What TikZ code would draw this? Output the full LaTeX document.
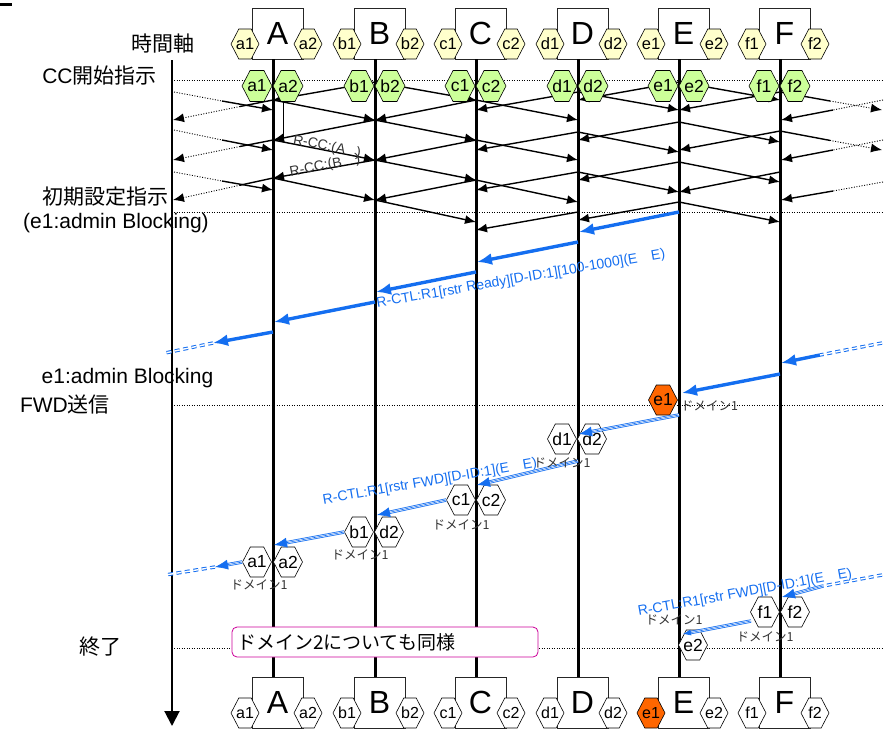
\documentclass[tikz,border=0pt]{standalone}
\usepackage{fontspec}
\setmainfont{Liberation Sans}
\newfontfamily\jp{Noto Sans CJK JP}
\usetikzlibrary{shapes.symbols,arrows.meta}
\definecolor{hexyellow}{RGB}{255,255,204}
\definecolor{hexgreen}{RGB}{204,255,153}
\definecolor{hexorange}{RGB}{255,102,0}
\definecolor{cblue}{RGB}{20,110,240}
\definecolor{boxmag}{RGB}{204,0,153}
\definecolor{txtgray}{RGB}{51,51,51}
\newcommand\hx[1]{\makebox[0pt]{#1}}
\newcommand\fs[1]{\fontsize{#1}{#1}\selectfont}
\begin{document}
\begin{tikzpicture}[x=1pt,y=-1pt,
  hexshape/.style={signal, signal to=east and west, signal pointer angle=125, draw=black, line width=0.6pt, inner sep=0pt, minimum width=29pt, minimum height=30pt},
  yhex/.style={hexshape, fill=hexyellow, minimum width=28pt, font=\fs{16.5}},
  ghex/.style={hexshape, fill=hexgreen, minimum width=30pt, minimum height=31pt, font=\fs{17.5}},
  whex/.style={hexshape, fill=white, font=\fs{17.5}},
  ohex/.style={hexshape, fill=hexorange, font=\fs{17.5}},
  bhex/.style={hexshape, fill=white, minimum width=28pt, font=\fs{16}},
  bohex/.style={bhex, fill=hexorange},
  entity/.style={draw=black!85, line width=0.6pt, fill=white, minimum width=51pt, minimum height=51pt, inner sep=0pt, font=\fs{32}},
  lifeline/.style={line width=3pt},
  msg/.style={line width=1.4pt, -{Latex[length=11pt,width=9pt]}},
  plainmsg/.style={line width=1.4pt},
  dotmsg/.style={line width=0.9pt, dash pattern=on 1pt off 1.6pt},
  dottip/.style={dotmsg, -{Latex[length=11pt,width=9pt]}},
  hline/.style={line width=0.5pt, dash pattern=on 1pt off 1.5pt},
  bluethick/.style={cblue, line width=3.4pt, -{Latex[length=15pt,width=12pt]}},
  dashdouble/.style={draw=cblue, double=white, line width=1pt, double distance=1.4pt, dash pattern=on 5pt off 3.5pt},
  fwouter/.style={draw=cblue, double=white, line width=0.8pt, double distance=1.8pt, shorten >=8pt},
  fwinner/.style={draw=cblue, line width=0.6pt, -{Latex[length=13pt,width=10pt]}},
  lbl/.style={font=\fs{21}, inner sep=0pt},
  dom/.style={font=\jp\fs{12.5}, text=txtgray, inner sep=0pt},
  bluelbl/.style={font=\fs{14}, text=cblue, inner sep=0pt},
  rcc/.style={font=\fs{14}, text=txtgray, inner sep=0pt},
  endbox/.style={draw=boxmag, line width=0.8pt, fill=white, rounded corners=5pt, minimum width=306pt, minimum height=30pt, inner sep=0pt, font=\jp\fs{19}}
]
\useasboundingbox (0,0) rectangle (895,729);
\fill (0,3) rectangle (12,6);

% horizontal dotted phase lines
\foreach \yy in {80,212,405,648}
  \draw[hline] (174,\yy) -- (882,\yy);

% time axis
\coordinate (axtop) at (172,60);
\coordinate (axbot) at (172,726);
\draw[line width=2pt, -{Triangle[length=15pt,width=15pt]}] (axtop) -- (axbot);

% entity boxes and lifelines
\foreach \L/\x in {A/273, B/375, C/476, D/578, E/679, F/780}{
  \node[entity] (top\L) at (\x+4.5,33.5) {\L};
  \node[entity] (bot\L) at (\x+4.5,702.5) {\L};
  \draw[lifeline] ([xshift=-4.5pt]top\L.south) -- ([xshift=-4.5pt]bot\L.north);
}

% black CC messages
\foreach \xa/\ya/\xb/\yb in {375/82/273/100, 375/82/476/100, 679/82/578/100, 679/82/780/100,
  578/92/476/110, 578/92/679/110, 780/92/679/110,
  273/100/375/120, 476/100/375/120, 476/100/578/120,
  375/120/273/140, 375/120/476/140, 679/122/578/140, 679/122/780/142,
  578/132/476/150, 578/132/679/152, 780/131/679/150,
  273/140/375/160, 476/140/375/160, 476/140/578/160,
  375/160/273/178, 375/160/476/180, 679/162/578/180, 679/162/780/182,
  578/172/476/190, 578/172/679/192, 780/172/679/192,
  273/178/375/200, 476/180/375/200, 476/180/578/202,
  375/200/476/222, 679/202/578/220, 679/202/780/222, 578/212/476/230}
  \draw[msg] (\xa,\ya) -- (\xb,\yb);

% messages to / from the left outside
\foreach \ya/\ym/\yb in {92/101/110, 130/140/150, 172/181/190}{
  \draw[dotmsg] (174,\ya) -- (222,\ym);
  \draw[msg] (222,\ym) -- (273,\yb);
}
\foreach \ya/\ym/\yb in {100/106.5/120, 140/146.5/160, 178/185.2/200}{
  \draw[plainmsg] (273,\ya) -- (240,\ym);
  \draw[dottip] (240,\ym) -- (173,\yb);
}
% messages to / from the right outside
\foreach \ya/\ym/\yb in {92/101/110, 131/140.4/150}{
  \draw[plainmsg] (780,\ya) -- (830,\ym);
  \draw[dottip] (830,\ym) -- (882,\yb);
}
\foreach \ya/\ym/\yb in {100/110/120, 140/150/160, 182/191/200}{
  \draw[dotmsg] (883,\ya) -- (833,\ym);
  \draw[msg] (833,\ym) -- (781,\yb);
}
\coordinate (vtop) at (283,101);
\coordinate (vbot) at (283,140);
\draw[line width=0.7pt] (vtop) -- (vbot);

% top / bottom port hexagons
\foreach \p/\x/\bs in {a/273/bhex, b/375/bhex, c/476/bhex, d/578/bhex, e/679/bohex, f/780/bhex}{
  \node[yhex] (top\p1) at (\x-28,44) {\hx{\p1}};
  \node[yhex] (top\p2) at (\x+35,44) {\hx{\p2}};
  \node[\bs] (bot\p1) at (\x-28,713) {\hx{\p1}};
  \node[bhex] (bot\p2) at (\x+35,713) {\hx{\p2}};
}
% green CC hexagons
\foreach \p/\x in {a/273, b/375, c/476, d/578, e/679, f/780}{
  \node[ghex] (cc\p1) at (\x-16,86) {\hx{\p1}};
  \node[ghex] (cc\p2) at (\x+15,86) {\hx{\p2}};
}

% R-CC labels
\node[rcc, rotate=-11] (rccA) at (327,147) {R-CC:(A\hspace{0.8em})};
\node[rcc, rotate=11] (rccB) at (325,166) {R-CC:(B\hspace{1em})};

% blue thick R-CTL Ready chain
\foreach \xa/\ya/\xb/\yb in {679/212/579/232, 578/242/477/262, 476/272/376/292, 375/302/274/322, 273/332/213/343, 820/355/781/363, 780/374/682/393}
  \draw[bluethick] (\xa,\ya) -- (\xb,\yb);
\coordinate (lwA) at (213,343); \coordinate (lwB) at (165,353);
\coordinate (rwA) at (882,343); \coordinate (rwB) at (820,355);
\draw[dashdouble] (lwA) -- (lwB);
\draw[dashdouble] (rwA) -- (rwB);
\node[bluelbl, rotate=9.8] (readylbl) at (521,279) {R-CTL:R1[rstr Ready][D-ID:1][100-1000](E\hspace{1em}E)};

% domain hexagons
\node[ohex] (dome1) at (663,400) {\hx{e1}};
\node[whex] (domd1) at (562,439) {\hx{d1}};
\node[whex] (domd2) at (592,439) {\hx{d2}};
\node[whex] (domc1) at (461,500) {\hx{c1}};
\node[whex] (domc2) at (491,500) {\hx{c2}};
\node[whex] (domb1) at (359,532) {\hx{b1}};
\node[whex] (domb2) at (389,532) {\hx{d2}};
\node[whex] (doma1) at (257,562) {\hx{a1}};
\node[whex] (doma2) at (288,562) {\hx{a2}};
\node[whex] (domf1) at (765,612) {\hx{f1}};
\node[whex] (domf2) at (795,612) {\hx{f2}};
\node[whex] (dome2) at (693,645) {\hx{e2}};

% FWD triple lines
\coordinate (fwE) at (679,415);   \coordinate (fwDin) at (579,434);
\coordinate (fwD) at (578,461);   \coordinate (fwCin) at (477,485);
\coordinate (fwBin) at (377,515);
\coordinate (fwAin) at (274,545);
\coordinate (fwLin) at (215,567); \coordinate (fwLend) at (165,575);
\coordinate (fwRst) at (882,575); \coordinate (fwRmid) at (823,586); \coordinate (fwFin) at (782,597);
\coordinate (fwF) at (751,621);   \coordinate (fwEin) at (683,634);
\foreach \s/\t in {fwE/fwDin, fwD/fwCin, domc1.west/fwBin, domb1.west/fwAin, doma1.west/fwLin, fwRmid/fwFin}{
  \draw[fwouter] (\s) -- (\t);
  \draw[fwinner] (\s) -- (\t);
}
\draw[fwouter, shorten >=5pt] (fwF) -- (fwEin);
\draw[cblue, line width=0.6pt, -{Latex[length=8pt,width=6pt]}] (fwF) -- (fwEin);
\draw[dashdouble] (fwLin) -- (fwLend);
\draw[dashdouble] (fwRst) -- (fwRmid);
\node[bluelbl, rotate=9.8] (fwdlbl1) at (430,482) {R-CTL:R1[rstr FWD][D-ID:1](E\hspace{1em}E)};
\node[bluelbl, rotate=10.3] (fwdlbl2) at (745,593) {R-CTL:R1[rstr FWD][D-ID:1](E\hspace{1em}E)};

% domain labels
\node[dom, anchor=west] (dl1) at (681,406) {ドメイン1};
\node[dom] (dl2) at (562,463) {ドメイン1};
\node[dom] (dl3) at (461,525) {ドメイン1};
\node[dom] (dl4) at (360,555) {ドメイン1};
\node[dom] (dl5) at (259,585) {ドメイン1};
\node[dom] (dl6) at (765,637) {ドメイン1};
\node[dom] (dl7) at (674,620) {ドメイン1};

% left labels
\node[lbl] (tjiku) at (162.5,44) {\jp 時間軸};
\node[lbl] (ccst) at (99.5,76) {CC{\jp 開始指示}};
\node[lbl] (init) at (105.5,197) {\jp 初期設定指示};
\node[lbl] (init2) at (116,223) {(e1:admin Blocking)};
\node[lbl] (adm) at (127.5,378) {e1:admin Blocking};
\node[lbl] (fwdsend) at (65,405) {FWD{\jp 送信}};
\node[lbl] (fin) at (100,647) {\jp 終了};

% domain 2 note
\node[endbox] (note) at (385,642) {\makebox[296pt][l]{ドメイン2についても同様}};
\end{tikzpicture}
\end{document}
